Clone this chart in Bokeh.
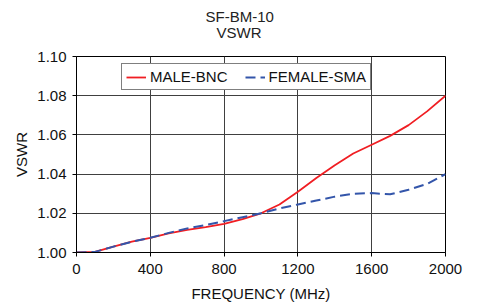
from bokeh.plotting import figure
from bokeh.models import Range1d, FixedTicker, NumeralTickFormatter, Legend, LegendItem, Title
from bokeh.embed import file_html
from bokeh.resources import INLINE

freq = [0, 100, 200, 300, 400, 500, 600, 700, 800, 900, 1000,
        1100, 1200, 1300, 1400, 1500, 1600, 1700, 1800, 1900, 2000]
male_bnc = [1.000, 1.0003, 1.003, 1.0055, 1.0075, 1.0098, 1.0115, 1.013, 1.0146, 1.017, 1.020,
            1.0245, 1.031, 1.038, 1.0445, 1.0505, 1.055, 1.0595, 1.065, 1.072, 1.080]
female_sma = [1.000, 1.0003, 1.003, 1.0055, 1.0075, 1.010, 1.0123, 1.014, 1.016, 1.018, 1.020,
              1.0225, 1.0245, 1.0265, 1.0285, 1.030, 1.0303, 1.0297, 1.032, 1.035, 1.040]
x_ticks = [0, 400, 800, 1200, 1600, 2000]
y_ticks = [1.00, 1.02, 1.04, 1.06, 1.08, 1.10]
series_names = ["MALE-BNC", "FEMALE-SMA"]
title_lines = ["SF-BM-10", "VSWR"]

FONT = "Liberation Sans"

p = figure(frame_width=369, frame_height=196, output_backend="svg", toolbar_location=None,
           x_range=Range1d(0, 2000), y_range=Range1d(1.00, 1.10),
           min_border_left=76, min_border_right=24, min_border_top=56, min_border_bottom=40,
           background_fill_color="white", border_fill_color="white")

# second line first (nearest the frame), then first line above it
p.add_layout(Title(text=title_lines[1], align="left", text_font=FONT, text_font_size="15px",
                   text_font_style="normal", text_color="#222222", offset=140, standoff=32), "above")
p.add_layout(Title(text=title_lines[0], align="left", text_font=FONT, text_font_size="15px",
                   text_font_style="normal", text_color="#222222", offset=129, standoff=-38), "above")

p.outline_line_color = "black"
p.outline_line_width = 1

for ax in (p.xaxis[0], p.yaxis[0]):
    ax.axis_line_color = "black"
    ax.major_tick_line_color = "black"
    ax.major_tick_out = 4
    ax.major_tick_in = 0
    ax.minor_tick_line_color = None
    ax.major_label_text_font = FONT
    ax.major_label_text_font_size = "15px"
    ax.major_label_text_color = "#111111"
    ax.axis_label_text_font = FONT
    ax.axis_label_text_font_size = "15px"
    ax.axis_label_text_font_style = "normal"
    ax.axis_label_text_color = "#111111"

p.xaxis.ticker = FixedTicker(ticks=x_ticks)
p.yaxis.ticker = FixedTicker(ticks=y_ticks)
p.yaxis.formatter = NumeralTickFormatter(format="0.00")
p.xaxis.axis_label = "FREQUENCY (MHz)"
p.yaxis.axis_label = "VSWR"
p.xaxis.major_label_standoff = 7
p.yaxis.major_label_standoff = 6
p.xaxis.axis_label_standoff = 8
p.yaxis.axis_label_standoff = 4

p.xgrid.ticker = FixedTicker(ticks=x_ticks)
p.ygrid.ticker = FixedTicker(ticks=y_ticks)
p.grid.grid_line_color = "#404040"
p.grid.grid_line_width = 1

r1 = p.line(freq, male_bnc, line_color="#f01e23", line_width=1.8)
r2 = p.line(freq, female_sma, line_color="#3355aa", line_width=2, line_dash="10 5")

legend = Legend(items=[LegendItem(label=series_names[0], renderers=[r1]),
                       LegendItem(label=series_names[1], renderers=[r2])],
                location=(45, 162), orientation="horizontal",
                label_text_font=FONT, label_text_font_size="15px", label_text_color="#111111",
                border_line_color="black", border_line_width=1,
                background_fill_color="white", background_fill_alpha=1,
                padding=4, margin=0, spacing=17, glyph_width=20, glyph_height=12,
                label_height=12, label_standoff=4)
p.add_layout(legend, "center")

open("out.html", "w").write(file_html(p, INLINE))
